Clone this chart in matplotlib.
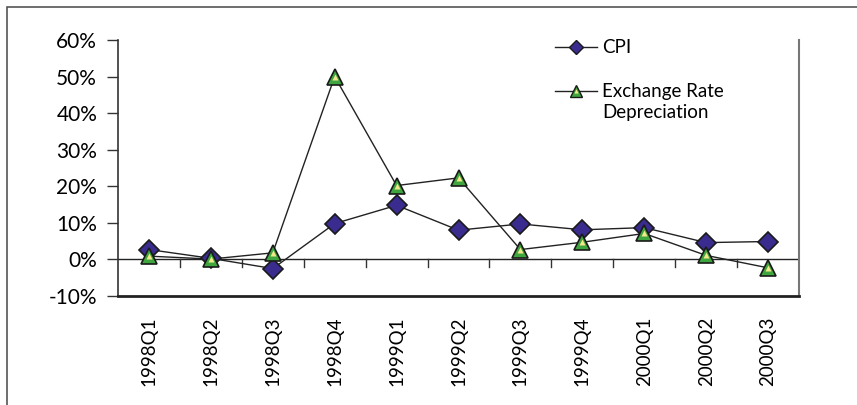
import matplotlib
matplotlib.use("Agg")
import matplotlib.pyplot as plt
from matplotlib.lines import Line2D
from matplotlib.patches import Rectangle

categories = ["1998Q1", "1998Q2", "1998Q3", "1998Q4", "1999Q1", "1999Q2",
              "1999Q3", "1999Q4", "2000Q1", "2000Q2", "2000Q3"]
cpi = [2.7, 0.3, -2.5, 9.8, 14.8, 8.0, 9.7, 8.1, 8.7, 4.6, 4.9]
exchange = [0.9, 0.1, 1.8, 50.0, 20.2, 22.3, 2.7, 4.7, 7.1, 1.1, -2.3]
yticks = [-10, 0, 10, 20, 30, 40, 50, 60]
series_names = ["CPI", "Exchange Rate\nDepreciation"]

plt.rcParams['font.family'] = ['Lato', 'DejaVu Sans']

W, H = 857, 405
fig = plt.figure(figsize=(W / 100, H / 100), dpi=100)


def fx(px):
    return px / W


def fy(py):
    return 1 - py / H


# outer border (top and left visible)
fig.patches.append(Rectangle((fx(7), -0.1), 1.2, fy(7) + 0.1,
                             transform=fig.transFigure, fill=False,
                             edgecolor='#555555', lw=1.2))

left, right, top, bottom = 118, 799, 40, 296
ax = fig.add_axes([fx(left), fy(bottom), (right - left) / W, (bottom - top) / H])

x = list(range(len(categories)))
ax.axhline(0, color='#222222', lw=1, zorder=1)
ax.plot(x, cpi, color='#222222', lw=1, marker='D', ms=10,
        markerfacecolor='#3A2C8E', markeredgecolor='#1a1a1a', mew=1.2, zorder=3)
ax.plot(x, exchange, color='#222222', lw=1, zorder=2)
ax.plot(x, exchange, ls='none', marker='^', ms=11,
        markerfacecolor='#3FA53F', markeredgecolor='#1a1a1a', mew=1.2, zorder=4)
ax.plot(x, exchange, ls='none', marker='^', ms=4.5,
        markerfacecolor='#F3E88A', markeredgecolor='none', zorder=5)

ax.set_xlim(-0.5, len(categories) - 0.5)
ax.set_ylim(-10, 60)
ax.set_yticks(yticks)
ax.set_yticklabels([f"{v}%" for v in yticks], fontsize=15)
ax.tick_params(axis='y', direction='out', length=8, width=1, color='#333333', pad=7)

ax.set_xticks(x)
ax.set_xticklabels(categories, rotation=90, fontsize=13.5)
ax.tick_params(axis='x', length=0, pad=15)
# category separator ticks on the zero line
for b in range(1, len(categories)):
    ax.plot([b - 0.5, b - 0.5], [0, -2.2], color='#333333', lw=1, zorder=1,
            clip_on=False)

ax.spines['top'].set_visible(False)
ax.spines['left'].set_color('#333333')
ax.spines['left'].set_linewidth(1.2)
ax.spines['bottom'].set_color('#222222')
ax.spines['bottom'].set_linewidth(2)
ax.spines['right'].set_color('#777777')
ax.spines['right'].set_linewidth(1.5)

# manual legend
tr = fig.transFigure
for yy, name, kind in [(47, series_names[0], 'cpi'), (91, series_names[1], 'ex')]:
    fig.add_artist(Line2D([fx(555), fx(597)], [fy(yy), fy(yy)], color='#222222',
                          lw=1, transform=tr))
    if kind == 'cpi':
        fig.add_artist(Line2D([fx(576)], [fy(yy)], ls='none', marker='D', ms=7.5,
                              markerfacecolor='#3A2C8E', markeredgecolor='#1a1a1a',
                              mew=1.0, transform=tr))
    else:
        fig.add_artist(Line2D([fx(576)], [fy(yy)], ls='none', marker='^', ms=8,
                              markerfacecolor='#3FA53F', markeredgecolor='#1a1a1a',
                              mew=1.0, transform=tr))
        fig.add_artist(Line2D([fx(576)], [fy(yy)], ls='none', marker='^', ms=3,
                              markerfacecolor='#F3E88A', markeredgecolor='none',
                              transform=tr))
    for i, line in enumerate(name.split("\n")):
        fig.text(fx(602), fy(yy + 6 + 21 * i), line, fontsize=13.5, ha='left',
                 va='baseline')

fig.savefig("out.png", dpi=100)
